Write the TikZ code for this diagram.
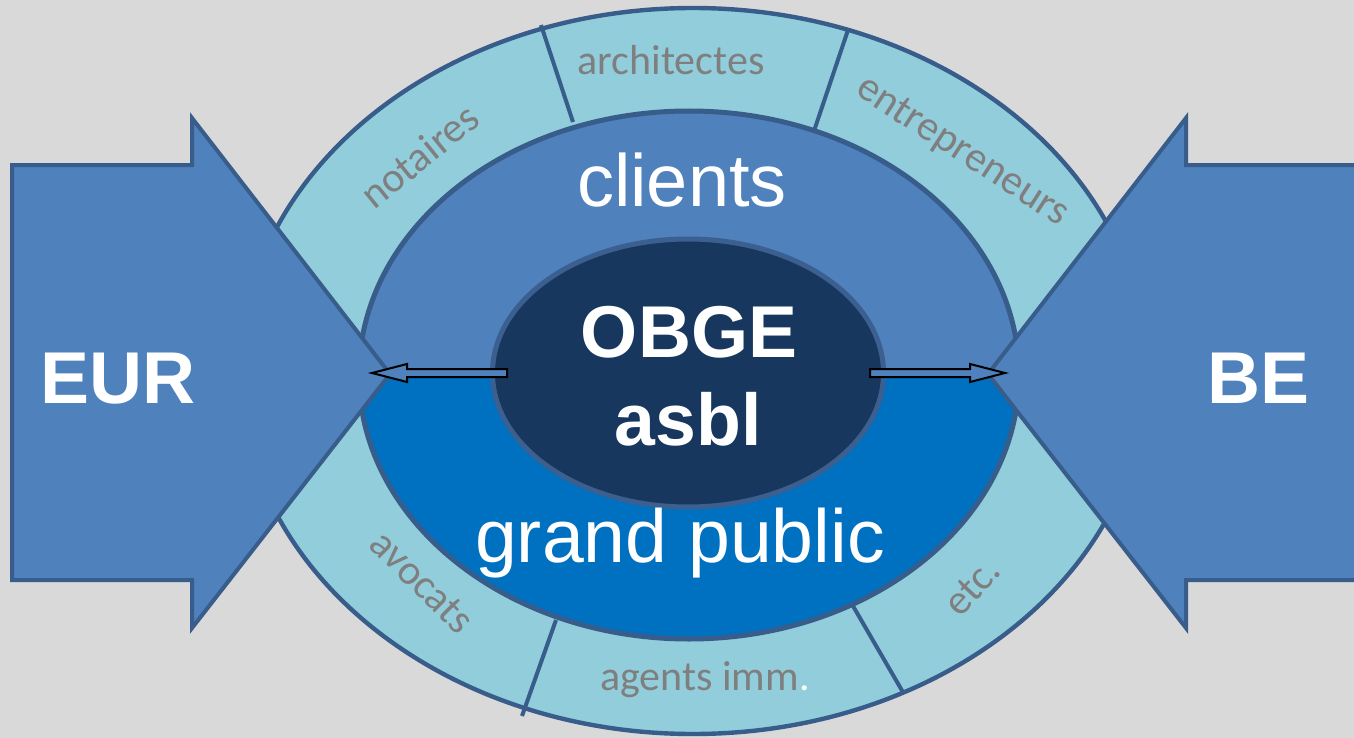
\documentclass[tikz,border=0pt]{standalone}
\usepackage{fontspec}
\setmainfont{Liberation Sans}
\newfontfamily\ringfont{Carlito}
\usetikzlibrary{shapes.geometric}
\definecolor{bg}{HTML}{D9D9D9}
\definecolor{ringfill}{HTML}{92CDDC}
\definecolor{edge}{HTML}{385D8A}
\definecolor{midtop}{HTML}{4F81BD}
\definecolor{midbot}{HTML}{0070C0}
\definecolor{corefill}{HTML}{17375E}
\definecolor{coreedge}{HTML}{3B5F8E}
\definecolor{labelgrey}{HTML}{7F7F7F}

\begin{document}
\begin{tikzpicture}[x=0.5pt,y=-0.5pt,
  outline/.style={draw=edge, line width=2.2pt},
  divider/.style={draw=edge, line width=2pt},
  ringlabel/.style={font=\ringfont\fontsize{21}{25}\selectfont, text=labelgrey, inner sep=0pt},
  biglabel/.style={font=\fontsize{37}{40}\selectfont, text=white, inner sep=0pt, anchor=base},
  boldlabel/.style={font=\bfseries\fontsize{36.7}{40}\selectfont, text=white, inner sep=0pt, anchor=base},
  blockarrow/.style={fill=midtop, draw=edge, line width=2pt, line join=miter},
  thinarrow/.style={fill=midtop, draw=black, line width=1pt, line join=miter}]

\useasboundingbox (0,0) rectangle (1354,738);
\fill[bg] (0,0) rectangle (1354,738);
\clip (0,0) rectangle (1354,738);

% outer ring of partners
\filldraw[fill=ringfill, outline] (693,371) ellipse [x radius=453, y radius=363];

% ring dividers
\draw[divider] (541,25) -- (573,122);
\draw[divider] (848,30) -- (814,131);
\draw[divider] (556,620) -- (522,716);
\draw[divider] (853,606) -- (904,694);

% clients / grand public ellipse
\begin{scope}
  \clip (0,0) rectangle (1354,375);
  \fill[midtop] (689,375) ellipse [x radius=330, y radius=264];
\end{scope}
\begin{scope}
  \clip (0,375) rectangle (1354,738);
  \fill[midbot] (689,375) ellipse [x radius=330, y radius=264];
\end{scope}
\draw[outline, line width=2.5pt] (689,375) ellipse [x radius=330, y radius=264];

% core
\node[ellipse, fill=corefill, draw=coreedge, line width=2.5pt, inner sep=0pt,
      minimum width=195.5pt, minimum height=134pt] (core) at (688,373) {};

% big block arrows
\draw[blockarrow] (12,165) -- (192,165) -- (192,118) -- (390,374) -- (192,628)
  -- (192,580) -- (12,580) -- cycle;
\draw[blockarrow] (1370,165) -- (1186,165) -- (1186,118) -- (988,374) -- (1186,628)
  -- (1186,580) -- (1370,580) -- cycle;
\coordinate (eurtip) at (372,373);
\coordinate (betip) at (1005,373);

% small outlined arrows from the core
\draw[thinarrow] (eurtip) -- (407,364) -- (407,369) -- (507,369) -- (507,377)
  -- (407,377) -- (407,382) -- cycle;
\draw[thinarrow] (betip) -- (970,382) -- (970,377) -- (870,377) -- (870,369)
  -- (970,369) -- (970,364) -- cycle;

% labels
\node[boldlabel] (eur) at (118,403) {EUR};
\node[boldlabel] (be) at (1258,403) {BE};
\node[boldlabel] (obge) at (689,357) {OBGE};
\node[boldlabel] (asbl) at (688,445) {asbl};
\node[biglabel] (clients) at (682,206) {clients};
\node[biglabel, font=\fontsize{37.6}{40}\selectfont] (public) at (680,562) {grand public};

\node[ringlabel, anchor=base] (archi) at (671,75) {architectes};
\node[ringlabel, rotate=39] (nota) at (419,156) {notaires};
\node[ringlabel, rotate=-33] (entre) at (962,152) {entrepreneurs};
\node[ringlabel, rotate=-45] (avoc) at (422,582) {avocats};
\node[ringlabel, anchor=base] (agents) at (705,690) {agents imm\textcolor{white}{.}};
\node[ringlabel, rotate=47] (etc) at (972,587) {etc.};
\end{tikzpicture}
\end{document}
